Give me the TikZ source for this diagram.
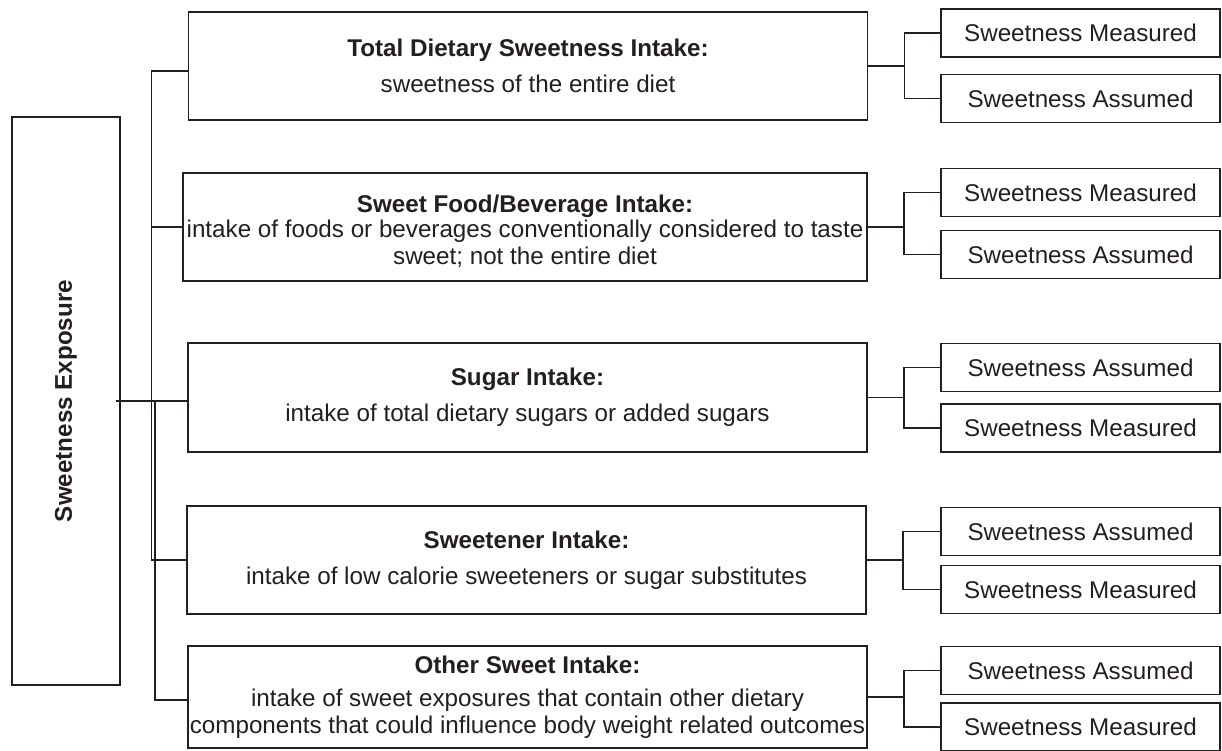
\documentclass[tikz,border=0pt]{standalone}
\usepackage{fontspec}
\setmainfont{Liberation Sans}
\definecolor{ink}{HTML}{231F20}
\begin{document}
\begin{tikzpicture}[x=1pt, y=-1pt, line width=1.9pt, color=ink,
    every node/.append style={font=\fontsize{24.2}{27}\selectfont},
    mainbox/.style={draw, minimum width=679, minimum height=108, align=center, inner xsep=2pt},
    leafbox/.style={draw, minimum width=279, minimum height=48, inner sep=0pt}]
	\useasboundingbox (0,0) rectangle (1222,751);

	\node (expo) [draw, minimum width=108, minimum height=568] at (66,401) {};
	\node [rotate=90, font=\fontsize{24.2}{27}\selectfont\bfseries] at (expo.center) {Sweetness Exposure};

	\node (total) [mainbox] at (528,66) {\textbf{Total Dietary Sweetness Intake:}\\[9pt] sweetness of the entire diet};
	\node (food) [mainbox, minimum width=684] at (525,227) {\rule{0pt}{26pt}\textbf{Sweet Food/Beverage Intake:}\\[-2pt] intake of foods or beverages conventionally considered to taste\\ sweet; not the entire diet};
	\node (sugar) [mainbox, minimum height=109] at (527.5,397.5) {\textbf{Sugar Intake:}\\[9pt] intake of total dietary sugars or added sugars};
	\node (sweetener) [mainbox] at (526.5,560) {\textbf{Sweetener Intake:}\\[9pt] intake of low calorie sweeteners or sugar substitutes};
	\node (other) [mainbox, minimum height=102] at (527.5,697) {\textbf{Other Sweet Intake:}\\[6pt] intake of sweet exposures that contain other dietary\\ components that could influence body weight related outcomes};

	\node (total-1) [leafbox] at (1080.5,33) {Sweetness Measured};
	\node (total-2) [leafbox] at (1080.5,98.5) {Sweetness Assumed};
	\node (food-1) [leafbox] at (1080.5,192.5) {Sweetness Measured};
	\node (food-2) [leafbox] at (1080.5,254.5) {Sweetness Assumed};
	\node (sugar-1) [leafbox] at (1080.5,367.5) {Sweetness Assumed};
	\node (sugar-2) [leafbox] at (1080.5,428) {Sweetness Measured};
	\node (sweetener-1) [leafbox] at (1080.5,531.5) {Sweetness Assumed};
	\node (sweetener-2) [leafbox] at (1080.5,589.5) {Sweetness Measured};
	\node (other-1) [leafbox] at (1080.5,670.5) {Sweetness Assumed};
	\node (other-2) [leafbox] at (1080.5,727) {Sweetness Measured};

	\foreach \b in {total,food,sugar,sweetener,other}
		\draw (\b.east) -- ++(36,0) coordinate (\b-j) (\b-j) |- (\b-1.west) (\b-j) |- (\b-2.west);

	\coordinate (busA) at (151.5,0);
	\coordinate (busB) at (155,0);
	\draw ([yshift=-5pt]total.west) -| (busA |- sweetener.west) -- (sweetener.west);
	\draw (busA |- food.west) -- (food.west);
	\draw ([xshift=-5pt]expo.east) -- (expo.east -| sugar.west);
	\draw (busB |- expo.east) |- ([yshift=-3pt]other.west);
\end{tikzpicture}
\end{document}
